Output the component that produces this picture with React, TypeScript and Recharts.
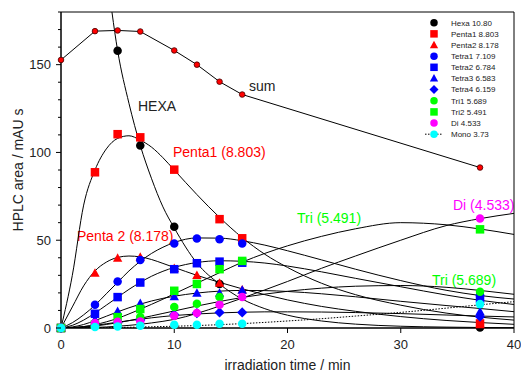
import { ComposedChart, Line, Scatter, XAxis, YAxis, ReferenceArea, Customized } from 'recharts';

const FONT = '"Liberation Sans", Arial, sans-serif';
const RED = '#ff0000';
const BLUE = '#0000ff';
const GREEN = '#00ff00';
const MAGENTA = '#ff00ff';
const CYAN = '#00ffff';

// measured points
const PT_TIMES = [0, 3, 5, 7, 10, 12, 14, 16, 37];
const hexaPts = [null, null, 157.9, 103.9, 57.7, null, 25.1, null, 0.3];
const penta1Pts = [0, 88.7, 110.4, 108.6, 90.2, null, 62.0, 51.1, 2.6];
const penta2Pts = [0, 31.2, 39.7, 40.3, 34, 29.9, 25.5, 21.7, 1.9];
const tetra1Pts = [0, 13.2, 26.5, 38.8, 48.2, 51, 50.5, 48.2, 18.7];
const tetra2Pts = [0, 8.1, 17.6, 25.9, 33.5, 36.9, 37.8, 37.2, 16.5];
const tetra3Pts = [0, 4.7, 9.4, 14, 17.9, 19.9, 19.9, 21.5, 9.3];
const tetra4Pts = [0, 1.5, 3, 4.5, 7.7, 8.5, 8.9, 8.9, 6.4];
const tri1Pts = [0, 1, 2.5, 6.2, 11.9, 13.8, 17.6, null, 20.6];
const tri2Pts = [0, 2, 6.2, 10.8, 21.2, 25.1, 33.5, 38.2, 56.2];
const diPts = [0, 2.8, 3.5, 3.7, 7, 8.5, 13.2, 17.6, 62.4];
const monoPts = [0, 0.6, 0.8, 1.3, 1.9, 1.9, 2.4, 2.4, 13.6];
const sumPts = [152.7, 169.1, 169.5, 168.9, 158.1, 150, 140.3, 133, 91.4];

// fitted curves
const FIT_TIMES = [0, 1, 2, 3, 4, 5, 6, 7, 8, 9, 10, 12, 14, 16, 18, 20, 23, 26, 30, 34, 37, 40];
const HEXA_TIMES = [3, 4, 5, 6, 7, 8, 9, 10, 12, 14, 16, 18, 20, 23, 26, 30, 34, 37, 40];
const hexaFit = [260, 205, 158, 128, 104, 85, 69, 57, 37, 25, 16.5, 11, 7.3, 4, 2.2, 1, 0.5, 0.3, 0.2];
const penta1Fit = [0, 30, 70, 90, 102, 108, 109.5, 107, 103, 97, 90, 76, 63, 51.5, 42, 34.5, 25.5, 19, 13, 8.5, 6.2, 4.5];
const penta2Fit = [0, 12, 24, 32.5, 37.5, 40.2, 41, 40.5, 39, 36.8, 34.5, 30, 26, 22.3, 19, 16, 12.3, 9.5, 6.5, 4.3, 3.1, 2.1];
const tetra1Fit = [0, 3, 7.5, 13, 19.5, 26, 32.5, 38, 42.5, 46, 48.7, 51.3, 51.2, 49.7, 47.2, 44, 38.8, 33.5, 27, 21.5, 18.5, 16.5];
const tetra2Fit = [0, 1.5, 4.5, 8.5, 13, 17.5, 22, 26, 29.5, 32.3, 34.5, 37.3, 38.3, 38, 37, 35.3, 32, 28.3, 23.5, 18.8, 15.8, 13.4];
const tetra3Fit = [0, 0.6, 2, 4.2, 6.7, 9.2, 11.5, 13.6, 15.4, 16.9, 18.1, 19.9, 21, 21.4, 21.3, 20.8, 19.5, 17.8, 15.2, 12.8, 11.1, 9.3];
const tetra4Fit = [0, 0.2, 0.8, 1.5, 2.4, 3.3, 4.2, 5, 5.8, 6.5, 7.1, 8, 8.6, 9, 9.2, 9.2, 9.1, 8.8, 8.2, 7.4, 6.8, 6.3];
const tri1Fit = [0, 0.1, 0.5, 1.1, 2, 3, 4.2, 5.5, 6.9, 8.3, 9.7, 12.5, 15.1, 17.4, 19.3, 20.9, 22.7, 23.8, 24.2, 23.2, 21.4, 19.2];
const tri2Fit = [0, 0.2, 0.8, 1.9, 3.5, 5.5, 8, 10.7, 13.5, 16.4, 19.5, 25.5, 31.5, 37.5, 42.5, 46.8, 52.2, 56.5, 60, 58.8, 56.4, 53.3];
const diFit = [0, 0, 0.1, 0.3, 0.6, 1, 1.5, 2.1, 2.9, 3.8, 4.9, 8.3, 12.5, 17, 21.7, 26.5, 34, 41, 50, 58.3, 62.3, 65.3];
const monoFit = [0, 0, 0.05, 0.1, 0.2, 0.3, 0.4, 0.55, 0.7, 0.85, 1, 1.4, 1.9, 2.5, 3.2, 4, 5.3, 6.8, 8.9, 11.3, 13.2, 15];

const Y_TICKS = [0, 10, 20, 30, 40, 50, 60, 70, 80, 90, 100, 110, 120, 130, 140, 150, 160, 170, 180];
const X_TICKS = [0, 10, 20, 30, 40];

const pts = (vals: (number | null)[], times = PT_TIMES) =>
  times.map((t, i) => ({ t, v: vals[i] })).filter((p) => p.v != null);

type Kind = 'circle' | 'square' | 'triangle' | 'diamond';

function marker(kind: Kind, cx: number, cy: number, fill: string, s = 8.5) {
  if (kind === 'circle') return <circle cx={cx} cy={cy} r={s / 2} fill={fill} />;
  if (kind === 'square') return <rect x={cx - s / 2} y={cy - s / 2} width={s} height={s} fill={fill} />;
  if (kind === 'triangle')
    return (
      <polygon
        points={`${cx},${cy - s * 0.58} ${cx + s * 0.55},${cy + s * 0.42} ${cx - s * 0.55},${cy + s * 0.42}`}
        fill={fill}
      />
    );
  const h = s * 0.6;
  return <polygon points={`${cx},${cy - h} ${cx + h},${cy} ${cx},${cy + h} ${cx - h},${cy}`} fill={fill} />;
}

const SERIES: { label: string; kind: Kind; color: string; points: (number | null)[] }[] = [
  { label: 'Hexa 10.80', kind: 'circle', color: '#000000', points: hexaPts },
  { label: 'Penta1 8.803', kind: 'square', color: RED, points: penta1Pts },
  { label: 'Penta2 8.178', kind: 'triangle', color: RED, points: penta2Pts },
  { label: 'Tetra1 7.109', kind: 'circle', color: BLUE, points: tetra1Pts },
  { label: 'Tetra2 6.784', kind: 'square', color: BLUE, points: tetra2Pts },
  { label: 'Tetra3 6.583', kind: 'triangle', color: BLUE, points: tetra3Pts },
  { label: 'Tetra4 6.159', kind: 'diamond', color: BLUE, points: tetra4Pts },
  { label: 'Tri1 5.689', kind: 'circle', color: GREEN, points: tri1Pts },
  { label: 'Tri2 5.491', kind: 'square', color: GREEN, points: tri2Pts },
  { label: 'Di 4.533', kind: 'circle', color: MAGENTA, points: diPts },
  { label: 'Mono 3.73', kind: 'circle', color: CYAN, points: monoPts },
];

const FITS = [penta1Fit, penta2Fit, tetra1Fit, tetra2Fit, tetra3Fit, tetra4Fit, tri1Fit, tri2Fit, diFit];

function YTick(props: any) {
  const { x, y, payload } = props;
  const major = payload.value % 50 === 0;
  return (
    <g>
      <line x1={x - (major ? 5 : 3)} x2={x} y1={y} y2={y} stroke="#000" />
      {major && (
        <text x={x - 10} y={y} dy="0.35em" textAnchor="end" fontSize={13} fill="#222" fontFamily={FONT}>
          {payload.value}
        </text>
      )}
    </g>
  );
}

function Overlay() {
  const lx = 434;
  const ly = 22.7;
  const step = 11.15;
  const note = (x: number, y: number, s: string, fill: string) => (
    <text x={x} y={y} dy="0.35em" fontSize={14} fill={fill} fontFamily={FONT}>
      {s}
    </text>
  );
  return (
    <g>
      {SERIES.map((s, i) => (
        <g key={s.label}>
          {s.label.startsWith('Mono') && (
            <line x1={425} x2={443} y1={ly + i * step} y2={ly + i * step} stroke="#000" strokeDasharray="1.5 1.5" />
          )}
          {marker(s.kind, lx, ly + i * step, s.color, 7.5)}
          <text x={451} y={ly + i * step} dy="0.35em" fontSize={8} fill="#222" fontFamily={FONT}>
            {s.label}
          </text>
        </g>
      ))}
      {note(138, 106, 'HEXA', '#222')}
      {note(249, 86, 'sum', '#222')}
      {note(173, 152, 'Penta1 (8.803)', RED)}
      {note(77, 236, 'Penta 2 (8.178)', RED)}
      {note(297, 218, 'Tri (5.491)', GREEN)}
      {note(453, 205, 'Di (4.533)', MAGENTA)}
      {note(432, 280, 'Tri (5.689)', GREEN)}
      <text x={287.5} y={365} dy="0.35em" textAnchor="middle" fontSize={14} fill="#222" fontFamily={FONT}>
        irradiation time / min
      </text>
      <text
        x={18}
        y={170}
        dy="0.35em"
        textAnchor="middle"
        fontSize={14}
        fill="#222"
        fontFamily={FONT}
        transform="rotate(-90 18 170)"
      >
        HPLC area / mAU s
      </text>
    </g>
  );
}

export default function App() {
  return (
    <div style={{ position: 'absolute', left: 0, top: 0, background: '#fff' }}>
      <ComposedChart width={521} height={373} margin={{ top: 12, right: 7, bottom: 0, left: 0 }}>
        <XAxis
          dataKey="t"
          type="number"
          domain={[0, 40]}
          ticks={X_TICKS}
          height={45}
          tickSize={5}
          tickMargin={7}
          stroke="#000"
          tick={{ fontSize: 13, fill: '#222', fontFamily: FONT }}
        />
        <YAxis
          yAxisId="c"
          type="number"
          domain={[0, 180]}
          allowDataOverflow
          ticks={Y_TICKS}
          interval={0}
          width={61}
          tickSize={0}
          tickMargin={0}
          tickLine={false}
          stroke="#000"
          tick={<YTick />}
        />
        <YAxis yAxisId="m" type="number" domain={[0, 180]} hide />
        <ReferenceArea yAxisId="c" x1={0} x2={40} y1={0} y2={180} fill="none" stroke="#000" strokeWidth={1} />

        <Line
          yAxisId="c"
          data={pts(hexaFit, HEXA_TIMES)}
          dataKey="v"
          type="monotone"
          stroke="#000"
          dot={false}
          isAnimationActive={false}
        />
        {FITS.map((f, i) => (
          <Line
            key={i}
            yAxisId="c"
            data={pts(f, FIT_TIMES)}
            dataKey="v"
            type="monotone"
            stroke="#000"
            dot={false}
            isAnimationActive={false}
          />
        ))}
        <Line
          yAxisId="c"
          data={pts(monoFit, FIT_TIMES)}
          dataKey="v"
          type="monotone"
          stroke="#000"
          strokeDasharray="1.5 1.5"
          dot={false}
          isAnimationActive={false}
        />
        <Line
          yAxisId="c"
          data={pts(sumPts)}
          dataKey="v"
          type="linear"
          stroke="#000"
          dot={false}
          isAnimationActive={false}
        />

        {SERIES.map((s) => (
          <Scatter
            key={s.label}
            yAxisId="m"
            data={pts(s.points)}
            dataKey="v"
            isAnimationActive={false}
            shape={(p: any) => marker(s.kind, p.cx, p.cy, s.color)}
          />
        ))}
        <Scatter
          yAxisId="m"
          data={pts(sumPts)}
          dataKey="v"
          isAnimationActive={false}
          shape={(p: any) => <circle cx={p.cx} cy={p.cy} r={2.8} fill={RED} stroke="#400" strokeWidth={0.8} />}
        />
        <Customized component={Overlay} />
      </ComposedChart>
    </div>
  );
}
